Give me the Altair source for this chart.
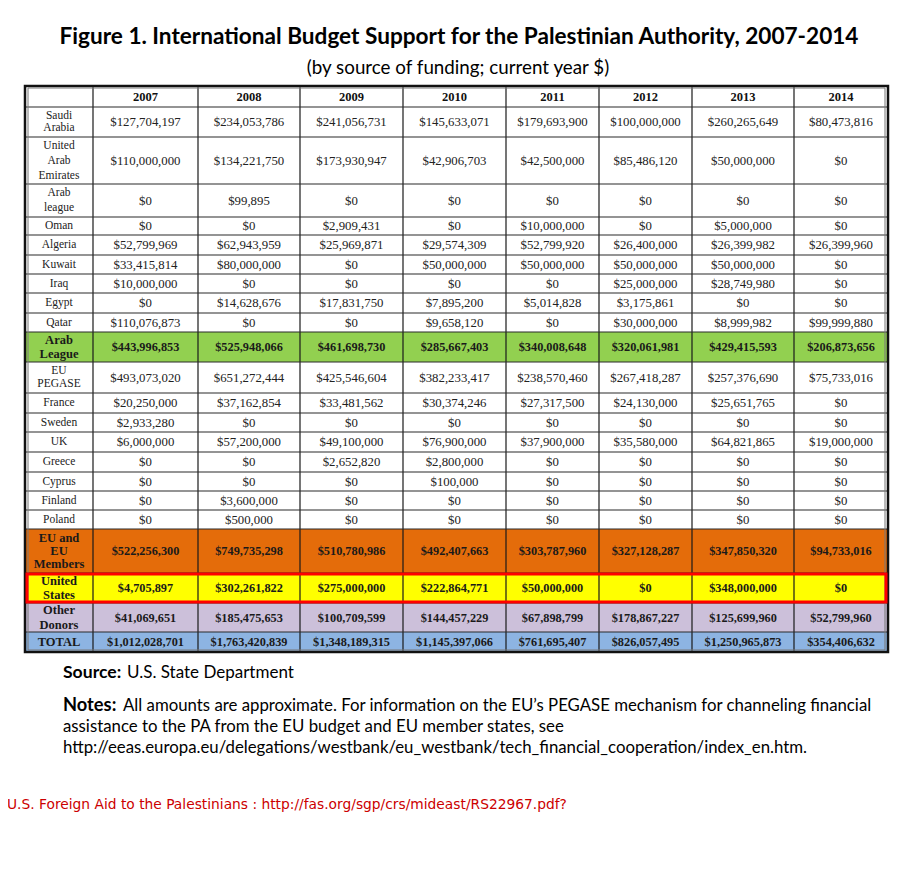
import altair as alt
import pandas as pd

# ---------------- data ----------------
years = ["2007", "2008", "2009", "2010", "2011", "2012", "2013", "2014"]
donors = ["Saudi\nArabia", "United\nArab\nEmirates", "Arab\nleague", "Oman", "Algeria",
          "Kuwait", "Iraq", "Egypt", "Qatar", "Arab\nLeague", "EU\nPEGASE", "France",
          "Sweden", "UK", "Greece", "Cyprus", "Finland", "Poland", "EU and\nEU\nMembers",
          "United\nStates", "Other\nDonors", "TOTAL"]
v2007 = [127704197, 110000000, 0, 0, 52799969, 33415814, 10000000, 0, 110076873, 443996853,
         493073020, 20250000, 2933280, 6000000, 0, 0, 0, 0, 522256300, 4705897, 41069651, 1012028701]
v2008 = [234053786, 134221750, 99895, 0, 62943959, 80000000, 0, 14628676, 0, 525948066,
         651272444, 37162854, 0, 57200000, 0, 0, 3600000, 500000, 749735298, 302261822, 185475653, 1763420839]
v2009 = [241056731, 173930947, 0, 2909431, 25969871, 0, 0, 17831750, 0, 461698730,
         425546604, 33481562, 0, 49100000, 2652820, 0, 0, 0, 510780986, 275000000, 100709599, 1348189315]
v2010 = [145633071, 42906703, 0, 0, 29574309, 50000000, 0, 7895200, 9658120, 285667403,
         382233417, 30374246, 0, 76900000, 2800000, 100000, 0, 0, 492407663, 222864771, 144457229, 1145397066]
v2011 = [179693900, 42500000, 0, 10000000, 52799920, 50000000, 0, 5014828, 0, 340008648,
         238570460, 27317500, 0, 37900000, 0, 0, 0, 0, 303787960, 50000000, 67898799, 761695407]
v2012 = [100000000, 85486120, 0, 0, 26400000, 50000000, 25000000, 3175861, 30000000, 320061981,
         267418287, 24130000, 0, 35580000, 0, 0, 0, 0, 327128287, 0, 178867227, 826057495]
v2013 = [260265649, 50000000, 0, 5000000, 26399982, 50000000, 28749980, 0, 8999982, 429415593,
         257376690, 25651765, 0, 64821865, 0, 0, 0, 0, 347850320, 348000000, 125699960, 1250965873]
v2014 = [80473816, 0, 0, 0, 26399960, 0, 0, 0, 99999880, 206873656,
         75733016, 0, 0, 19000000, 0, 0, 0, 0, 94733016, 0, 52799960, 354406632]
series = [v2007, v2008, v2009, v2010, v2011, v2012, v2013, v2014]

summary_rows = ["Arab\nLeague", "EU and\nEU\nMembers", "United\nStates", "Other\nDonors", "TOTAL"]
summary_fills = ["#92D050", "#E46C0A", "#FFFF00", "#CCC0DA", "#8DB4E2"]

title = "Figure 1. International Budget Support for the Palestinian Authority, 2007-2014"
subtitle = "(by source of funding; current year $)"
source_head = "Source:"
source_text = "U.S. State Department"
notes_head = "Notes:"
notes_lines = ["All amounts are approximate. For information on the EU\u2019s PEGASE mechanism for channeling financial",
               "assistance to the PA from the EU budget and EU member states, see",
               "http://eeas.europa.eu/delegations/westbank/eu_westbank/tech_financial_cooperation/index_en.htm."]
link_text = "U.S. Foreign Aid to the Palestinians : http://fas.org/sgp/crs/mideast/RS22967.pdf?"

# ---------------- layout (pixel geometry of the table) ----------------
COL_EDGES = [25, 93, 198, 300, 403, 506, 599, 692, 794, 888]
ROW_EDGES = [86, 107, 137, 184, 217, 235, 255, 274, 293, 313, 332, 362, 393,
             413, 432, 452, 472, 491, 510, 529, 573, 603, 632, 652]
LINE_GAP = [12.6, 15, 15.5, 14, 14, 14, 14, 14, 14, 14, 12.6, 14, 14, 14, 14, 14, 14, 14,
            13.2, 14.3, 14.3, 14]

XS = alt.Scale(domain=[8, 901], range=[0, 893], zero=False, nice=False)
YS = alt.Scale(domain=[8, 864], range=[0, 856], zero=False, nice=False)


def X(f="x"):
    return alt.X(f"{f}:Q", scale=XS, axis=None)


def Y(f="y"):
    return alt.Y(f"{f}:Q", scale=YS, axis=None)


def X2(f="x2"):
    return alt.X2(f"{f}:Q")


def Y2(f="y2"):
    return alt.Y2(f"{f}:Q")


def fmt(v):
    return "$" + f"{v:,}"


rows_y = [(ROW_EDGES[i + 1] + ROW_EDGES[i + 2]) / 2 for i in range(len(donors))]
col_x = [(COL_EDGES[i] + COL_EDGES[i + 1]) / 2 for i in range(len(COL_EDGES) - 1)]
header_y = (ROW_EDGES[0] + ROW_EDGES[1]) / 2

# backgrounds
bg_rows = []
for name, fill in zip(summary_rows, summary_fills):
    i = donors.index(name)
    bg_rows.append({"x": COL_EDGES[0], "x2": COL_EDGES[-1], "y": ROW_EDGES[i + 1],
                    "y2": ROW_EDGES[i + 2], "fill": fill})
bg = alt.Chart(pd.DataFrame(bg_rows)).mark_rect().encode(
    x=X(), x2=X2(), y=Y(), y2=Y2(), color=alt.Color("fill:N", scale=None))

# grid lines
vdf = pd.DataFrame([{"x": c, "y": ROW_EDGES[0], "y2": ROW_EDGES[-1]} for c in COL_EDGES[1:-1]])
hdf = pd.DataFrame([{"x": COL_EDGES[0], "x2": COL_EDGES[-1], "y": r} for r in ROW_EDGES[1:-1]])
vlines = alt.Chart(vdf).mark_rule(color="#1a1a1a", strokeWidth=1.2).encode(x=X(), y=Y(), y2=Y2())
hlines = alt.Chart(hdf).mark_rule(color="#2a2a2a", strokeWidth=1.2).encode(x=X(), x2=X2(), y=Y())

outer = alt.Chart(pd.DataFrame([{"x": COL_EDGES[0], "x2": COL_EDGES[-1], "y": ROW_EDGES[0], "y2": ROW_EDGES[-1]}])
                  ).mark_rect(filled=False, stroke="#111111", strokeWidth=2.5).encode(
    x=X(), x2=X2(), y=Y(), y2=Y2())
inner = alt.Chart(pd.DataFrame([{"x": COL_EDGES[0] + 3, "x2": COL_EDGES[-1] - 3, "y": ROW_EDGES[0] + 2, "y2": ROW_EDGES[-1] - 2}])
                  ).mark_rect(filled=False, stroke="#777777", strokeWidth=1).encode(
    x=X(), x2=X2(), y=Y(), y2=Y2())

us_i = donors.index("United\nStates")
us_box = alt.Chart(pd.DataFrame([{"x": COL_EDGES[0] + 2, "x2": COL_EDGES[-1] - 2,
                                  "y": ROW_EDGES[us_i + 1] + 1, "y2": ROW_EDGES[us_i + 2] - 1}])
                   ).mark_rect(filled=False, stroke="#FF0000", strokeWidth=3).encode(
    x=X(), x2=X2(), y=Y(), y2=Y2())

# texts
header_df = pd.DataFrame([{"x": col_x[j + 1], "y": header_y, "t": y} for j, y in enumerate(years)])
label_reg, label_bold, val_reg, val_bold = [], [], [], []
for i, name in enumerate(donors):
    lines = name.split("\n")
    n = len(lines)
    bold = name in summary_rows
    for k, ln in enumerate(lines):
        rec = {"x": col_x[0], "y": rows_y[i] + (k - (n - 1) / 2) * LINE_GAP[i], "t": ln}
        (label_bold if bold else label_reg).append(rec)
    for j, s in enumerate(series):
        rec = {"x": col_x[j + 1], "y": rows_y[i], "t": fmt(s[i])}
        (val_bold if bold else val_reg).append(rec)


def tlayer(df, **kw):
    return alt.Chart(pd.DataFrame(df)).mark_text(baseline="middle", **kw).encode(
        x=X(), y=Y(), text="t:N")


serif = "Liberation Serif"
headers = tlayer(header_df, font=serif, fontSize=12.5, fontWeight="bold", color="#111")
lab_r = tlayer(label_reg, font=serif, fontSize=11.5, color="#222")
lab_b = tlayer(label_bold, font=serif, fontSize=12.5, fontWeight="bold", color="#1a1a1a")
val_r = tlayer(val_reg, font=serif, fontSize=12.8, color="#222")
val_b = tlayer(val_bold, font=serif, fontSize=12.3, fontWeight="bold", color="#1a1a1a")

sans = "Lato"
t_title = tlayer([{"x": 459, "y": 37, "t": title}], font=sans, fontSize=22.6, fontWeight="bold", color="#000")
t_sub = tlayer([{"x": 458, "y": 68, "t": subtitle}], font=sans, fontSize=18.8, color="#000")
t_src_h = tlayer([{"x": 63, "y": 673, "t": source_head}], align="left", font=sans, fontSize=17.6, fontWeight="bold", color="#000")
t_src = tlayer([{"x": 127, "y": 673, "t": source_text}], align="left", font=sans, fontSize=17, color="#000")
t_not_h = tlayer([{"x": 63, "y": 706, "t": notes_head}], align="left", font=sans, fontSize=18.3, fontWeight="bold", color="#000")
t_not = tlayer([{"x": 123, "y": 706, "t": notes_lines[0]},
                {"x": 63, "y": 727, "t": notes_lines[1]},
                {"x": 63, "y": 748, "t": notes_lines[2]}], align="left", font=sans, fontSize=16.8, color="#000")
t_link = tlayer([{"x": 7, "y": 805, "t": link_text}], align="left", font="DejaVu Sans", fontSize=13.8, color="#CC0000")

chart = alt.layer(
    bg, vlines, hlines, outer, inner, us_box,
    headers, lab_r, lab_b, val_r, val_b,
    t_title, t_sub, t_src_h, t_src, t_not_h, t_not, t_link,
).properties(
    width=893, height=856, padding=0,
    autosize=alt.AutoSizeParams(type="none"),
    background="white",
).configure_view(stroke=None)

chart.save("out.html", embed_options={"renderer": "svg", "actions": False})
